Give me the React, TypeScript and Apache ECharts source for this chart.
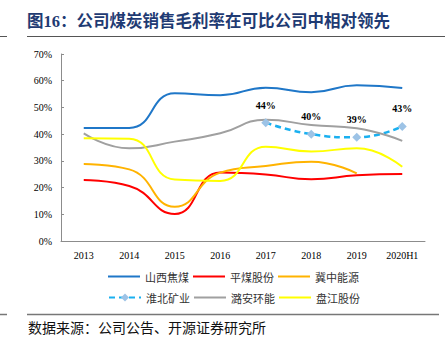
import React, { useEffect, useRef } from "react";
import * as echarts from "echarts";

const categories = ["2013", "2014", "2015", "2016", "2017", "2018", "2019", "2020H1"];
const shanxi = [42.3, 42.3, 55.3, 54.6, 57.4, 55.7, 58.3, 57.3];
const pingmei = [22.8, 20.6, 10.1, 25.6, 24.9, 23.1, 24.6, 25.1];
const jizhong = [28.8, 26.8, 12.8, 25.6, 28.1, 29.7, 25.3, null];
const huaibei = [null, null, null, null, 44.3, 40.0, 38.8, 42.9];
const luan = [40.3, 34.7, 37.2, 40.3, 45.4, 43.4, 42.2, 37.5];
const panjiang = [38.5, 38.3, 23.0, 22.5, 35.3, 33.5, 34.7, 27.8];
const huaibeiLabels = ["", "", "", "", "44%", "40%", "39%", "43%"];
const yTicks = [0, 10, 20, 30, 40, 50, 60, 70];

const serif = "'Liberation Serif', 'Times New Roman', serif";
const cjk = "'Noto Sans CJK SC', sans-serif";
const lineIcon = "path://M0,0 L32,0 L32,2 L0,2 Z";
const SMOOTH = 0.5;

export default function App() {
  const ref = useRef<HTMLDivElement>(null);
  useEffect(() => {
    if (!ref.current) return;
    const chart = echarts.init(ref.current, null, { renderer: "svg" });
    const lineSeries = (name: string, data: (number | null)[], color: string) => ({
      name,
      type: "line",
      smooth: SMOOTH,
      symbol: "none",
      data,
      lineStyle: { color, width: 2 },
      itemStyle: { color },
    });
    const legendText = { fontFamily: cjk, fontSize: 11, color: "#333" };
    chart.setOption({
      animation: false,
      backgroundColor: "#ffffff",
      grid: { left: 61, right: 20, top: 54, bottom: 112 },
      xAxis: {
        type: "category",
        data: categories,
        boundaryGap: true,
        axisLine: { lineStyle: { color: "#8c8c8c", width: 1 } },
        axisTick: { inside: true, length: 3, lineStyle: { color: "#8c8c8c" } },
        axisLabel: { color: "#000", fontFamily: serif, fontSize: 10, margin: 9 },
      },
      yAxis: {
        type: "value",
        min: 0,
        max: 70,
        interval: 10,
        axisLine: { show: true, lineStyle: { color: "#8c8c8c", width: 1 } },
        axisTick: { show: true, inside: true, length: 3, lineStyle: { color: "#8c8c8c" } },
        splitLine: { show: false },
        axisLabel: {
          color: "#000",
          fontFamily: serif,
          fontSize: 10,
          margin: 9,
          formatter: (v: number) => (yTicks.includes(v) ? v + "%" : ""),
        },
      },
      legend: [
        {
          data: [
            { name: "山西焦煤", icon: lineIcon },
            { name: "平煤股份", icon: lineIcon },
            { name: "冀中能源", icon: lineIcon },
          ],
          left: 103,
          top: 266,
          itemWidth: 32,
          itemHeight: 10,
          itemGap: 4,
          textStyle: legendText,
        },
        {
          data: [
            { name: "淮北矿业" },
            { name: "潞安环能", icon: lineIcon },
            { name: "盘江股份", icon: lineIcon },
          ],
          left: 103,
          top: 287,
          itemWidth: 32,
          itemHeight: 10,
          itemGap: 4,
          textStyle: legendText,
        },
      ],
      series: [
        lineSeries("山西焦煤", shanxi, "#1f77c8"),
        lineSeries("平煤股份", pingmei, "#ff0000"),
        lineSeries("冀中能源", jizhong, "#ffb300"),
        {
          name: "淮北矿业",
          type: "line",
          smooth: SMOOTH,
          symbol: "diamond",
          symbolSize: 9,
          data: huaibei,
          lineStyle: { color: "#1ab0f0", width: 2.5, type: [6, 4] },
          itemStyle: { color: "#9dc3e6" },
          label: {
            show: true,
            position: "top",
            distance: 8,
            fontFamily: serif,
            fontWeight: "bold",
            fontSize: 10,
            color: "#000",
            formatter: (p: any) => huaibeiLabels[p.dataIndex],
          },
        },
        lineSeries("潞安环能", luan, "#a0a0a0"),
        lineSeries("盘江股份", panjiang, "#ffff00"),
      ],
      graphic: [
        {
          type: "text",
          left: 27,
          top: 13,
          style: {
            text: "图16：公司煤炭销售毛利率在可比公司中相对领先",
            fontFamily: "'Liberation Serif', 'Noto Sans CJK SC', serif",
            fontWeight: "bold",
            fontSize: 16.5,
            fill: "#1f3b73",
          },
        },
        { type: "line", shape: { x1: 0, y1: 36.5, x2: 7, y2: 36.5 }, style: { stroke: "#555", lineWidth: 1 } },
        { type: "line", shape: { x1: 27, y1: 36.5, x2: 445, y2: 36.5 }, style: { stroke: "#555", lineWidth: 1 } },
        { type: "line", shape: { x1: 0, y1: 314.5, x2: 7, y2: 314.5 }, style: { stroke: "#777", lineWidth: 1.5 } },
        { type: "line", shape: { x1: 27, y1: 314.5, x2: 439, y2: 314.5 }, style: { stroke: "#777", lineWidth: 1.5 } },
        {
          type: "text",
          left: 28,
          top: 320,
          style: {
            text: "数据来源：公司公告、开源证券研究所",
            fontFamily: cjk,
            fontSize: 14,
            fill: "#111",
          },
        },
      ],
    });
    return () => chart.dispose();
  }, []);
  return <div ref={ref} style={{ width: 445, height: 353, position: "absolute", left: 0, top: 0 }} />;
}
